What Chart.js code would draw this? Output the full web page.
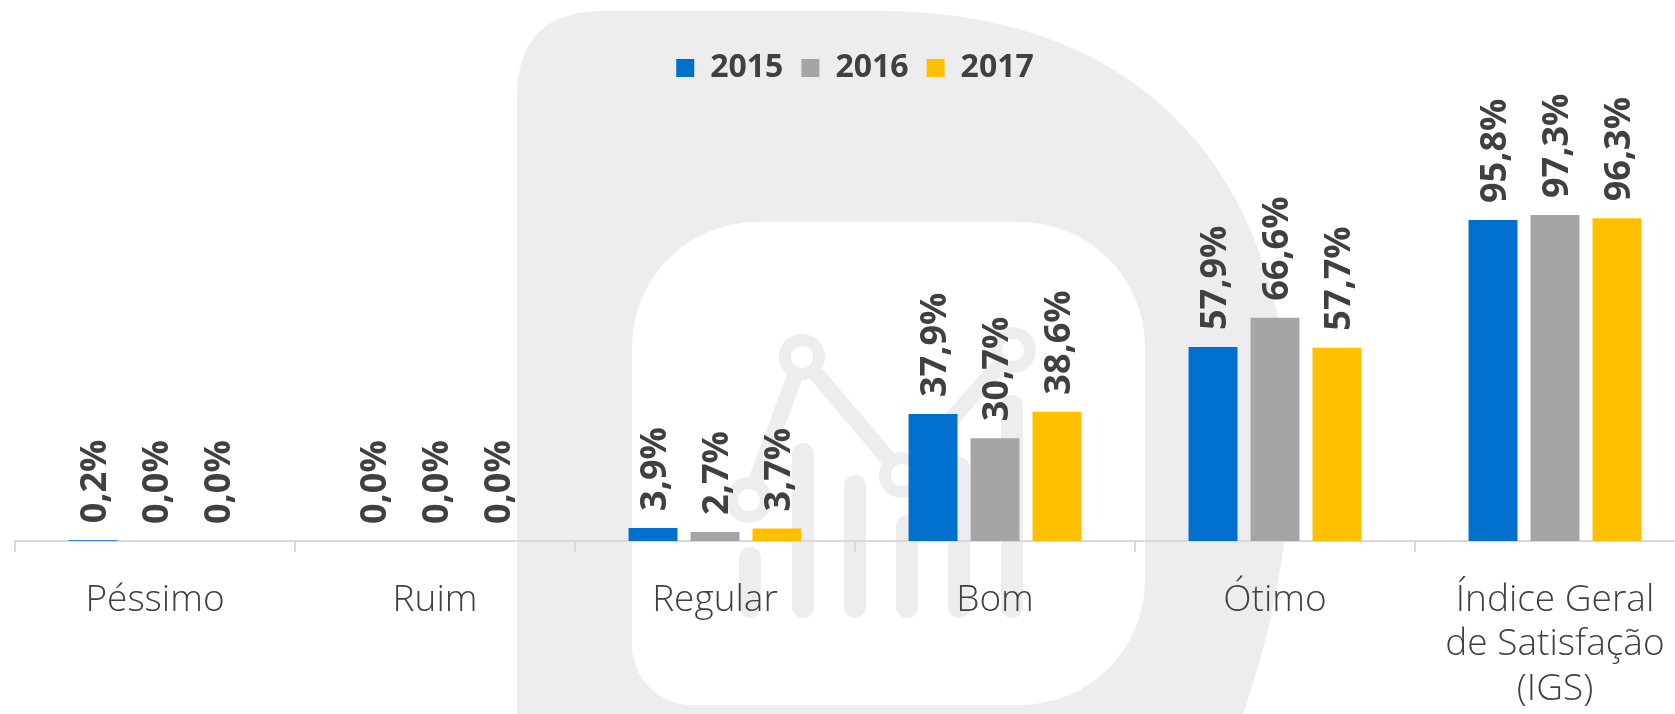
<!DOCTYPE html>
<html lang="pt-BR">
<head>
<meta charset="utf-8">
<title>Satisfação 2015-2017</title>
<script src="https://cdn.jsdelivr.net/npm/chart.js"></script>
<style>
  html, body { margin: 0; padding: 0; background: #fff; overflow: hidden; }
  canvas { display: block; }
</style>
</head>
<body>
<canvas id="chart" width="1700" height="714"></canvas>
<script>
const categories = ['Péssimo', 'Ruim', 'Regular', 'Bom', 'Ótimo', ['Índice Geral', 'de Satisfação', '(IGS)']];
const years = ['2015', '2016', '2017'];
const values2015 = [0.2, 0.0, 3.9, 37.9, 57.9, 95.8];
const values2016 = [0.0, 0.0, 2.7, 30.7, 66.6, 97.3];
const values2017 = [0.0, 0.0, 3.7, 38.6, 57.7, 96.3];
const colors = ['#0070CE', '#A5A5A5', '#FFC000'];

const textColor = '#404040';
const fontFamily = "'Open Sans', 'Noto Sans', sans-serif";
const watermark = '#EDEDF0';

// light grey logo behind the chart
const backgroundLogo = {
    id: 'backgroundLogo',
    beforeDraw(chart) {
        const ctx = chart.ctx;
        ctx.save();
        ctx.fillStyle = watermark;
        ctx.beginPath();
        ctx.moveTo(517, 714);
        ctx.lineTo(517, 97);
        ctx.quadraticCurveTo(517, 11, 603, 11);
        ctx.lineTo(880, 11);
        ctx.bezierCurveTo(1180, 12, 1295, 220, 1290, 450);
        ctx.bezierCurveTo(1290, 560, 1265, 650, 1243, 714);
        ctx.closePath();
        ctx.fill();

        // inner hole
        ctx.fillStyle = '#fff';
        ctx.beginPath();
        ctx.roundRect(632, 222, 513, 483, [125, 125, 125, 60]);
        ctx.fill();

        // chart icon
        ctx.strokeStyle = watermark;
        ctx.lineCap = 'round';
        ctx.lineWidth = 22;
        const sticks = [[750, 558], [803, 454], [855, 486], [907, 526], [959, 468], [1012, 406]];
        sticks.forEach(([x, top]) => {
            ctx.beginPath();
            ctx.moveTo(x, top);
            ctx.lineTo(x, 607);
            ctx.stroke();
        });
        const dots = [[749, 500], [802, 357], [902, 475], [1013, 350]];
        ctx.lineWidth = 16;
        ctx.beginPath();
        dots.forEach(([x, y], i) => i ? ctx.lineTo(x, y) : ctx.moveTo(x, y));
        ctx.stroke();
        dots.forEach(([x, y]) => {
            ctx.fillStyle = '#fff';
            ctx.beginPath();
            ctx.arc(x, y, 12, 0, Math.PI * 2);
            ctx.fill();
            ctx.lineWidth = 12;
            ctx.beginPath();
            ctx.arc(x, y, 17, 0, Math.PI * 2);
            ctx.stroke();
        });
        ctx.restore();
    }
};

// vertical value labels above the bars
const barLabels = {
    id: 'barLabels',
    afterDatasetsDraw(chart) {
        const ctx = chart.ctx;
        const size = 36;
        ctx.save();
        ctx.font = 'bold ' + size + 'px ' + fontFamily;
        ctx.fillStyle = textColor;
        ctx.textAlign = 'left';
        ctx.textBaseline = 'alphabetic';
        chart.data.datasets.forEach((ds, i) => {
            chart.getDatasetMeta(i).data.forEach((bar, j) => {
                const txt = ds.data[j].toFixed(1).replace('.', ',') + '%';
                ctx.save();
                ctx.translate(bar.x, bar.y - 17);
                ctx.rotate(-Math.PI / 2);
                ctx.fillText(txt, 0, size * 0.36);
                ctx.restore();
            });
        });
        ctx.restore();
    }
};

new Chart(document.getElementById('chart'), {
    type: 'bar',
    data: {
        labels: categories,
        datasets: [
            { label: years[0], data: values2015, backgroundColor: colors[0] },
            { label: years[1], data: values2016, backgroundColor: colors[1] },
            { label: years[2], data: values2017, backgroundColor: colors[2] }
        ]
    },
    options: {
        responsive: false,
        animation: false,
        devicePixelRatio: 1,
        categoryPercentage: 0.664,
        barPercentage: 0.79,
        layout: { padding: { top: 34, left: 15, right: 5, bottom: 0 } },
        plugins: {
            tooltip: { enabled: false },
            legend: {
                position: 'top',
                labels: {
                    boxWidth: 18,
                    boxHeight: 18,
                    padding: 18,
                    color: textColor,
                    font: { family: fontFamily, size: 32, weight: 'bold' }
                }
            }
        },
        scales: {
            y: {
                display: false,
                min: 0,
                max: 133.4
            },
            x: {
                afterFit(scale) { scale.height = 173; },
                grid: {
                    drawOnChartArea: false,
                    drawTicks: true,
                    tickLength: 11,
                    color: '#D9D9D9',
                    lineWidth: 2
                },
                border: { display: true, color: '#D9D9D9', width: 2 },
                ticks: {
                    color: textColor,
                    padding: 26,
                    maxRotation: 0,
                    autoSkip: false,
                    font: { family: fontFamily, size: 37, weight: 300, lineHeight: 1.2 }
                }
            }
        }
    },
    plugins: [backgroundLogo, barLabels]
});
</script>
</body>
</html>
